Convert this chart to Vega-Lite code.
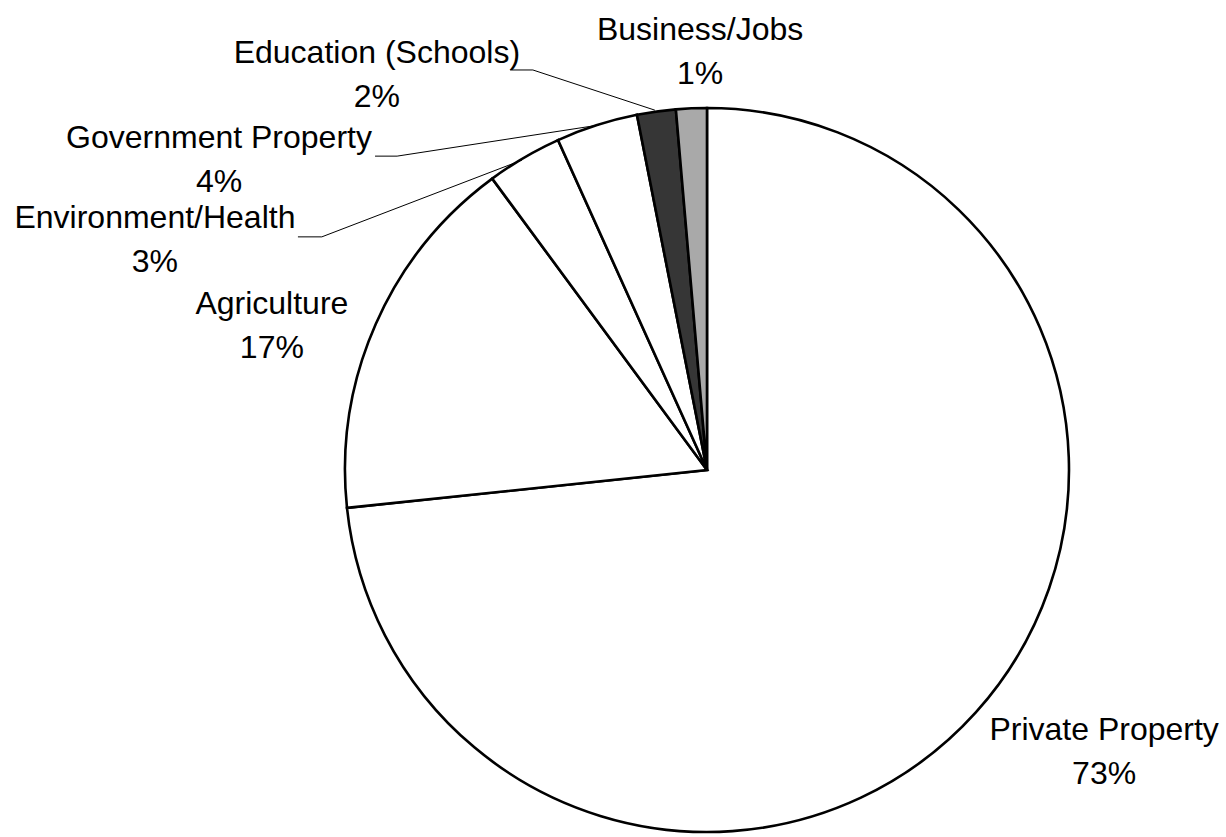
{
  "$schema": "https://vega.github.io/schema/vega-lite/v6.json",
  "width": 1226,
  "height": 837,
  "autosize": {"type": "none"},
  "padding": 0,
  "background": "#ffffff",
  "config": {"view": {"stroke": null}},
  "datasets": {
    "slices": [
      {"category": "Private Property", "share": 73.33, "order": 1},
      {"category": "Agriculture", "share": 16.56, "order": 2},
      {"category": "Environment/Health", "share": 3.36, "order": 3},
      {"category": "Government Property", "share": 3.65, "order": 4},
      {"category": "Education (Schools)", "share": 1.73, "order": 5},
      {"category": "Business/Jobs", "share": 1.37, "order": 6}
    ],
    "labels": [
      {"category": "Private Property", "text": "Private Property\n73%", "lx": 109.7, "ly": -71.8},
      {"category": "Agriculture", "text": "Agriculture\n17%", "lx": -120.2, "ly": 45.9},
      {"category": "Environment/Health", "text": "Environment/Health\n3%", "lx": -152.5, "ly": 69.6},
      {"category": "Government Property", "text": "Government Property\n4%", "lx": -134.8, "ly": 91.7},
      {"category": "Education (Schools)", "text": "Education (Schools)\n2%", "lx": -91.2, "ly": 115.2},
      {"category": "Business/Jobs", "text": "Business/Jobs\n1%", "lx": -1.9, "ly": 121.5}
    ],
    "leaders": [
      {"category": "Education (Schools)", "seq": 1, "lx": -54.4, "ly": 110.5},
      {"category": "Education (Schools)", "seq": 2, "lx": -48.1, "ly": 110.5},
      {"category": "Education (Schools)", "seq": 3, "lx": -14.4, "ly": 99.4},
      {"category": "Government Property", "seq": 1, "lx": -91.7, "ly": 86.7},
      {"category": "Government Property", "seq": 2, "lx": -85.6, "ly": 86.7},
      {"category": "Government Property", "seq": 3, "lx": -29.8, "ly": 95.3},
      {"category": "Environment/Health", "seq": 1, "lx": -113.0, "ly": 64.4},
      {"category": "Environment/Health", "seq": 2, "lx": -106.4, "ly": 64.4},
      {"category": "Environment/Health", "seq": 3, "lx": -51.1, "ly": 85.6}
    ]
  },
  "layer": [
    {
      "data": {"name": "slices"},
      "mark": {"type": "arc", "outerRadius": 362, "stroke": "#000000", "strokeWidth": 2.6},
      "encoding": {
        "theta": {"field": "share", "type": "quantitative", "stack": true},
        "order": {"field": "order", "type": "quantitative"},
        "x": {"datum": 0, "type": "quantitative", "scale": {"domain": [-195.3, 143.37], "nice": false, "zero": false}, "axis": null},
        "y": {"datum": 0, "type": "quantitative", "scale": {"domain": [-101.38, 129.83], "nice": false, "zero": false}, "axis": null},
        "color": {
          "field": "category",
          "type": "nominal",
          "legend": null,
          "scale": {
            "domain": ["Private Property", "Agriculture", "Environment/Health", "Government Property", "Education (Schools)", "Business/Jobs"],
            "range": ["#ffffff", "#ffffff", "#ffffff", "#ffffff", "#363636", "#a9a9a9"]
          }
        }
      }
    },
    {
      "data": {"name": "leaders"},
      "mark": {"type": "line", "color": "#000000", "strokeWidth": 1},
      "encoding": {
        "x": {"field": "lx", "type": "quantitative"},
        "y": {"field": "ly", "type": "quantitative"},
        "detail": {"field": "category", "type": "nominal"},
        "order": {"field": "seq", "type": "quantitative"}
      }
    },
    {
      "data": {"name": "labels"},
      "mark": {"type": "text", "font": "Liberation Sans", "fontSize": 32, "lineHeight": 44, "lineBreak": "\n", "align": "center", "baseline": "middle", "color": "#000000"},
      "encoding": {
        "x": {"field": "lx", "type": "quantitative"},
        "y": {"field": "ly", "type": "quantitative"},
        "text": {"field": "text", "type": "nominal"}
      }
    }
  ]
}
